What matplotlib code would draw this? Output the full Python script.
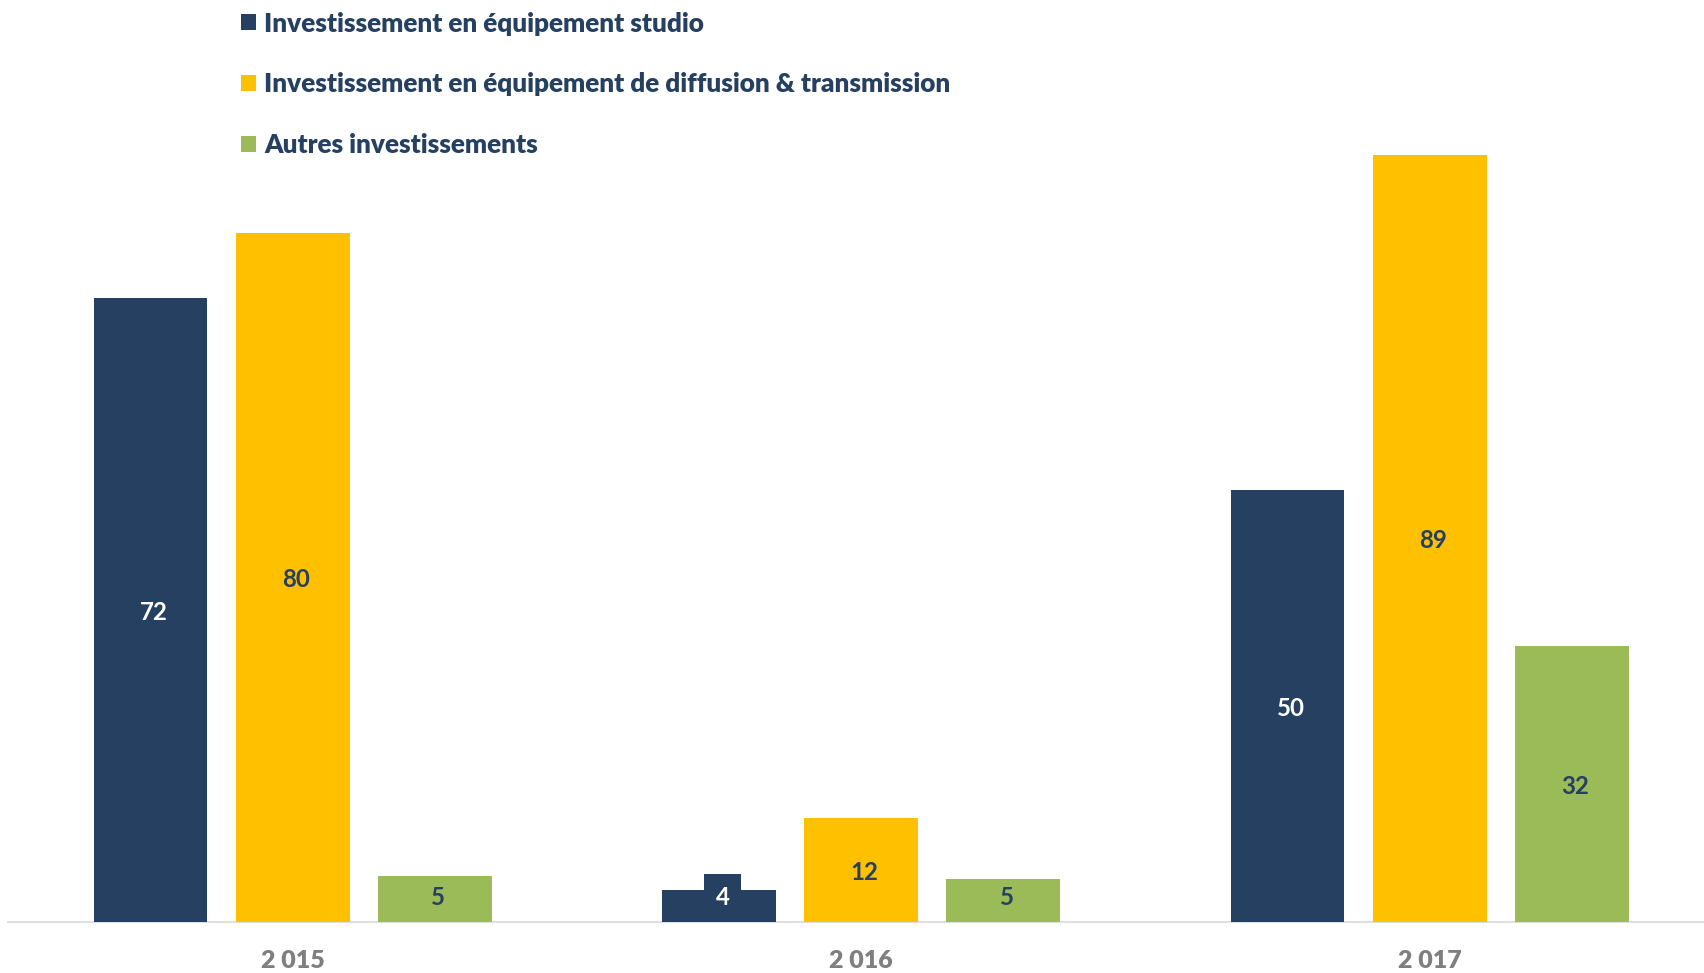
import matplotlib
matplotlib.use("Agg")
import matplotlib.pyplot as plt
from matplotlib.patches import Patch
import numpy as np

# data
years = ["2 015", "2 016", "2 017"]
series_names = [
    "Investissement en équipement studio",
    "Investissement en équipement de diffusion & transmission",
    "Autres investissements",
]
studio = [72.4, 3.6, 50.1]
diffusion = [79.9, 12.0, 89.0]
autres = [5.3, 4.9, 32.0]

NAVY = "#264061"
YELLOW = "#FFC000"
GREEN = "#9BBB59"
GREY = "#7F7F7F"

series = [studio, diffusion, autres]
colors = [NAVY, YELLOW, GREEN]
label_colors = ["white", NAVY, NAVY]

plt.rcParams["font.family"] = ["Lato", "DejaVu Sans"]

W, H = 1704, 973
fig = plt.figure(figsize=(W / 100, H / 100), dpi=100)
base_px = 921.5
left_px = 8.45
ax = fig.add_axes([left_px / W, (H - base_px) / H, (W - left_px) / W, base_px / H])

x = np.arange(len(years))
width = 0.2
offsets = [-0.25, 0.0, 0.25]

for vals, off, col, lcol in zip(series, offsets, colors, label_colors):
    bars = ax.bar(x + off, vals, width, color=col, zorder=3)
    for rect, v in zip(bars, vals):
        cx = rect.get_x() + rect.get_width() / 2
        cy = max(v / 2, 3.1)
        # the tiny navy bar gets a filled label box, like the original
        box = None
        if lcol == "white" and v < 6:
            box = dict(boxstyle="square,pad=0.5", fc=NAVY, ec="none")
        ax.annotate(f"{v:.0f}", xy=(cx, cy), xytext=(2.5, -1.8),
                    textcoords="offset points", ha="center", va="center",
                    fontsize=17.3, fontweight="bold", color=lcol,
                    bbox=box, zorder=4)

ax.set_xlim(-0.5, (W - 292.7) / 568.5)
ax.set_ylim(0, base_px / 8.615)

for side in ["top", "right", "left"]:
    ax.spines[side].set_visible(False)
ax.spines["bottom"].set_color("#D9D9D9")
ax.spines["bottom"].set_linewidth(1.2)
ax.spines["bottom"].set_zorder(2)
ax.set_yticks([])
ax.set_xticks(x)
ax.set_xticklabels(years, fontsize=18, fontweight="heavy", color=GREY)
ax.tick_params(axis="x", length=0, pad=20.5)

handles = [Patch(facecolor=c, edgecolor="none") for c in colors]
leg = fig.legend(handles, series_names, loc="upper left",
                 bbox_to_anchor=(241 / W, 1 - 11.5 / H),
                 frameon=False, borderpad=0, borderaxespad=0,
                 handlelength=0.58, handleheight=0.58, handletextpad=0.3,
                 labelspacing=1.41, prop={"size": 18.8, "weight": "heavy"})
for t in leg.get_texts():
    t.set_color(NAVY)

fig.savefig("out.png", dpi=100)
